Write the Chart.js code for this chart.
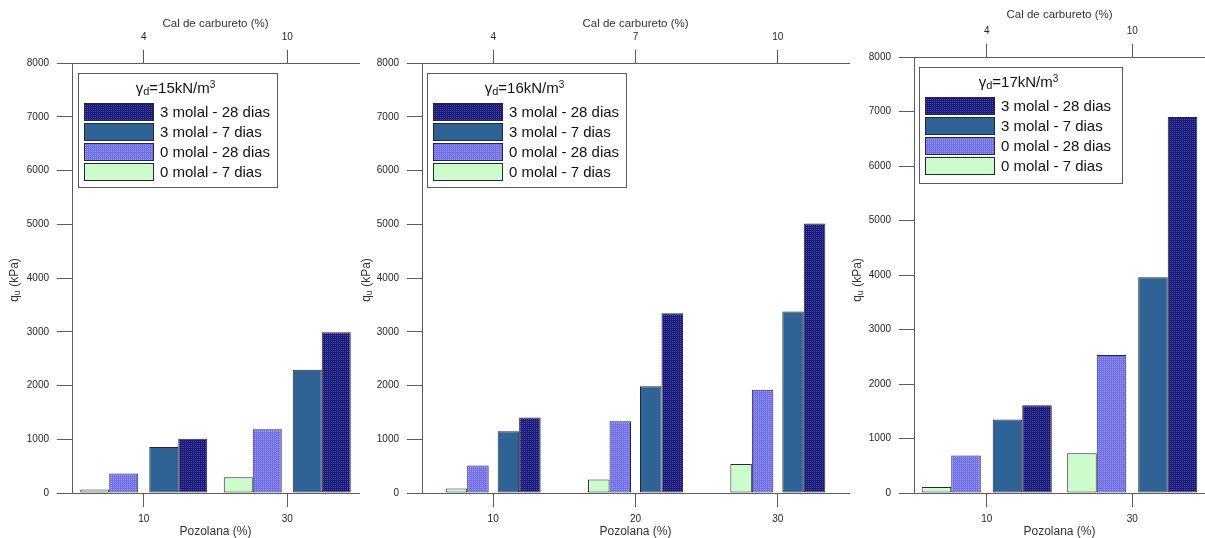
<!DOCTYPE html>
<html>
<head>
<meta charset="utf-8">
<title>qu x Pozolana</title>
<script src="https://cdn.jsdelivr.net/npm/chart.js@4.4.1/dist/chart.umd.min.js"></script>
<style>
  html, body { margin: 0; padding: 0; background: #fff; }
  #wrap { position: relative; width: 1205px; height: 538px; overflow: hidden; }
  #wrap canvas { position: absolute; top: 0; }
</style>
</head>
<body>
<div id="wrap">
  <canvas id="g15" width="380" height="538" style="left:0px"></canvas>
  <canvas id="g16" width="500" height="538" style="left:355px"></canvas>
  <canvas id="g17" width="360" height="538" style="left:845px"></canvas>
</div>
<script>
/* ---- data: unconfined strength qu (kPa) per mix ---- */
var SERIES = ["0 molal - 7 dias", "0 molal - 28 dias", "3 molal - 7 dias", "3 molal - 28 dias"];

// gamma_d = 15 kN/m3
var POZ_15 = ["10", "30"];
var CAL_15 = ["4", "10"];
var G15_M0_D7  = [65, 295];
var G15_M0_D28 = [365, 1185];
var G15_M3_D7  = [855, 2295];
var G15_M3_D28 = [1010, 2990];

// gamma_d = 16 kN/m3
var POZ_16 = ["10", "20", "30"];
var CAL_16 = ["4", "7", "10"];
var G16_M0_D7  = [85, 250, 540];
var G16_M0_D28 = [510, 1335, 1920];
var G16_M3_D7  = [1150, 1985, 3375];
var G16_M3_D28 = [1405, 3345, 5015];

// gamma_d = 17 kN/m3
var POZ_17 = ["10", "30"];
var CAL_17 = ["4", "10"];
var G17_M0_D7  = [110, 730];
var G17_M0_D28 = [690, 2530];
var G17_M3_D7  = [1350, 3960];
var G17_M3_D28 = [1610, 6900];

var Y_MIN = 0, Y_MAX = 8000, Y_STEP = 1000;

/* ---- look ---- */
var FAMILY = "'Liberation Sans', Arial, sans-serif";
var AXIS = "#5c5c5c";
var TICK = "#262626";
var EDGE = "#26263a";

function dotPattern(base, dot) {
  var c = document.createElement("canvas");
  c.width = 2; c.height = 2;
  var x = c.getContext("2d");
  x.fillStyle = base; x.fillRect(0, 0, 2, 2);
  x.fillStyle = dot;  x.fillRect(1, 1, 1, 1);
  return x.createPattern(c, "repeat");
}

var FILL = [
  "#ccfccc",                           // 0 molal - 7 dias
  dotPattern("#7070ec", "#9c9cf8"),    // 0 molal - 28 dias
  "#2f6395",                           // 3 molal - 7 dias
  dotPattern("#1a1a78", "#4a4aa4")     // 3 molal - 28 dias
];

/* Bars come in two touching pairs with a small gap at the tick.
   Chart.js centres dataset i at cp*((i+.5)/n-.5) of the category and
   makes it cp*bp/n wide, so solve cp/bp per dataset for that layout. */
function placeBars(datasets, barFrac, gapFrac) {
  var n = datasets.length;
  datasets.forEach(function (ds, i) {
    var k = i - (n - 1) / 2;
    var off = (k < 0 ? -1 : 1) * (gapFrac / 2 + Math.abs(k) * barFrac);
    var f = (i + 0.5) / n - 0.5;
    ds.categoryPercentage = off / f;
    ds.barPercentage = barFrac * n / ds.categoryPercentage;
  });
}

/* ---- legend box inside the plot, with the gamma_d heading ---- */
function drawRich(ctx, parts, cx, cy) {
  var total = 0;
  parts.forEach(function (p) {
    ctx.font = p.size + "px " + FAMILY;
    p.w = ctx.measureText(p.t).width;
    total += p.w;
  });
  var x = cx - total / 2;
  ctx.textAlign = "left";
  ctx.textBaseline = "middle";
  parts.forEach(function (p) {
    ctx.font = p.size + "px " + FAMILY;
    ctx.fillText(p.t, x, cy + (p.dy || 0));
    x += p.w;
  });
}

var boxLegend = {
  id: "boxLegend",
  afterDatasetsDraw: function (chart, args, o) {
    var ctx = chart.ctx, a = chart.chartArea;
    var x = Math.round(a.left + o.dx), y = Math.round(a.top + o.dy);
    ctx.save();
    ctx.fillStyle = "#fff";
    ctx.fillRect(x, y, o.width, o.height);
    ctx.strokeStyle = "#5a5a5a";
    ctx.lineWidth = 1;
    ctx.strokeRect(x + 0.5, y + 0.5, o.width, o.height);

    ctx.fillStyle = "#111";
    drawRich(ctx, [
      { t: "\u03b3", size: 15, dy: 0 },
      { t: "d", size: 11, dy: 3 },
      { t: "=" + o.gamma + "kN/m", size: 15, dy: 0 },
      { t: "3", size: 10, dy: -4 }
    ], x + o.width / 2 - 2, y + 16);

    var list = chart.data.datasets.slice().reverse();
    list.forEach(function (d, i) {
      var ry = y + 30 + i * 20;
      ctx.fillStyle = d.backgroundColor;
      ctx.fillRect(x + 6, ry, o.swatch, 17);
      ctx.strokeStyle = EDGE;
      ctx.strokeRect(x + 6.5, ry + 0.5, o.swatch, 17);
      ctx.fillStyle = "#111";
      ctx.font = "15px " + FAMILY;
      ctx.textAlign = "left";
      ctx.textBaseline = "middle";
      ctx.fillText(d.label, x + 13 + o.swatch, ry + 9.5);
    });
    ctx.restore();
  }
};

/* ---- rotated y title with subscript: q_u (kPa) ---- */
var quTitle = {
  id: "quTitle",
  afterDraw: function (chart, args, o) {
    var ctx = chart.ctx;
    ctx.save();
    ctx.translate(o.x, o.y);
    ctx.rotate(-Math.PI / 2);
    ctx.fillStyle = "#333";
    drawRich(ctx, [
      { t: "q", size: 12, dy: 0 },
      { t: "u", size: 9, dy: 3 },
      { t: " (kPa)", size: 12, dy: 0 }
    ], 0, 0);
    ctx.restore();
  }
};

function tickFont() { return { size: 10, family: FAMILY }; }

function makePanel(id, p) {
  var datasets = [p.m0d7, p.m0d28, p.m3d7, p.m3d28].map(function (vals, i) {
    return {
      label: SERIES[i],
      data: vals,
      backgroundColor: FILL[i],
      borderColor: EDGE,
      borderWidth: 1,
      borderSkipped: false,
      xAxisID: "x"
    };
  });
  placeBars(datasets, p.barFrac, p.gapFrac);

  var H = 538;
  return new Chart(document.getElementById(id), {
    type: "bar",
    data: { labels: p.poz, datasets: datasets },
    options: {
      responsive: false,
      animation: false,
      events: [],
      layout: { padding: { left: 0, top: 0, bottom: 0, right: p.padRight } },
      plugins: {
        legend: { display: false },
        tooltip: { enabled: false },
        boxLegend: { gamma: p.gamma, dx: p.legend.dx, dy: 10, width: p.legend.w, height: p.legend.h, swatch: 69 },
        quTitle: { x: p.titleX, y: 280 }
      },
      scales: {
        x: {
          type: "category",
          position: "bottom",
          offset: true,
          grid: { offset: false, drawOnChartArea: false, drawTicks: true, tickLength: 14, color: AXIS },
          border: { display: true, color: AXIS, width: 1 },
          ticks: { color: TICK, font: tickFont(), padding: 6, maxRotation: 0 },
          title: { display: true, text: "Pozolana (%)", color: "#333",
                   font: { size: 12, family: FAMILY, lineHeight: 1 }, padding: 0 },
          afterFit: function (s) { s.height = H - p.bottom; }
        },
        xTop: {
          type: "category",
          position: "top",
          labels: p.cal,
          offset: true,
          grid: { offset: false, drawOnChartArea: false, drawTicks: true, tickLength: 13, color: AXIS },
          border: { display: true, color: AXIS, width: 1 },
          ticks: { color: TICK, font: tickFont(), padding: 7, maxRotation: 0 },
          title: { display: true, text: "Cal de carbureto (%)", color: "#333",
                   font: { size: 11.5, family: FAMILY, lineHeight: 1.2 }, padding: { top: p.calTitleTop, bottom: 0 } },
          afterFit: function (s) { s.height = p.top; }
        },
        y: {
          min: Y_MIN,
          max: Y_MAX,
          grid: { drawOnChartArea: false, drawTicks: true, tickLength: 15, color: AXIS },
          border: { display: true, color: AXIS, width: 1 },
          ticks: { stepSize: Y_STEP, color: TICK, font: tickFont(), padding: 8,
                   callback: function (v) { return String(v); } },
          afterFit: function (s) { s.width = p.left; }
        }
      }
    },
    plugins: [boxLegend, quTitle]
  });
}

makePanel("g15", {
  gamma: "15", poz: POZ_15, cal: CAL_15,
  m0d7: G15_M0_D7, m0d28: G15_M0_D28, m3d7: G15_M3_D7, m3d28: G15_M3_D28,
  left: 72, padRight: 21, top: 63, bottom: 493, calTitleTop: 17,
  barFrac: 0.202, gapFrac: 0.077, titleX: 15,
  legend: { dx: 6, w: 199, h: 114 }
});

makePanel("g16", {
  gamma: "16", poz: POZ_16, cal: CAL_16,
  m0d7: G16_M0_D7, m0d28: G16_M0_D28, m3d7: G16_M3_D7, m3d28: G16_M3_D28,
  left: 67, padRight: 6, top: 63, bottom: 493, calTitleTop: 17,
  barFrac: 0.151, gapFrac: 0.063, titleX: 12,
  legend: { dx: 5, w: 199, h: 114 }
});

makePanel("g17", {
  gamma: "17", poz: POZ_17, cal: CAL_17,
  m0d7: G17_M0_D7, m0d28: G17_M0_D28, m3d7: G17_M3_D7, m3d28: G17_M3_D28,
  left: 69, padRight: 0, top: 57, bottom: 493, calTitleTop: 8,
  barFrac: 0.203, gapFrac: 0.082, titleX: 13,
  legend: { dx: 5, w: 203, h: 116 }
});
</script>
</body>
</html>
